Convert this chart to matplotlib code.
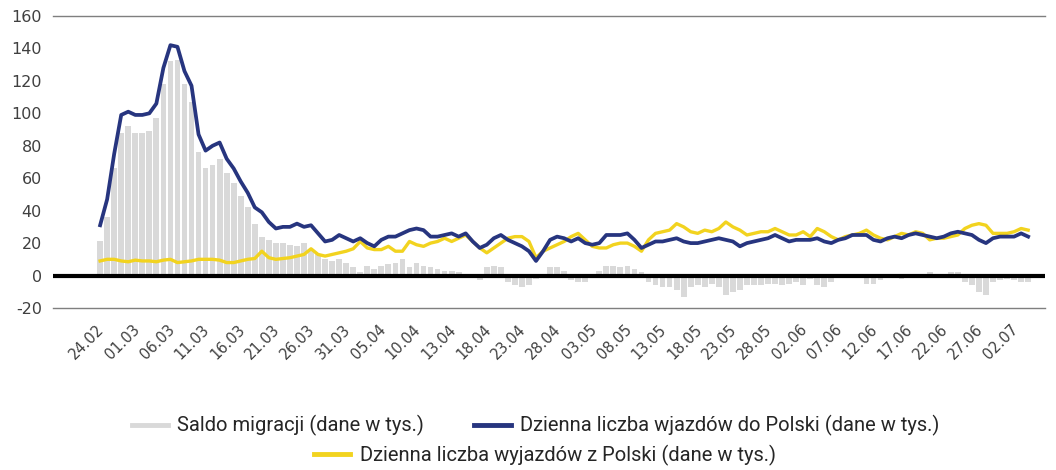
import matplotlib.pyplot as plt
import matplotlib.transforms as mtransforms
from matplotlib.lines import Line2D

plt.rcParams['axes.unicode_minus'] = False

# dzienna liczba wjazdow do Polski (tys.)
wjazdy = [31, 47, 75, 99, 101, 99, 99, 100, 106, 128,
          142, 141, 126, 117, 87, 77, 80, 82, 72, 66,
          58, 51, 42, 39, 33, 29, 30, 30, 32, 30,
          31, 26, 21, 22, 25, 23, 21, 23, 20, 18,
          22, 24, 24, 26, 28, 29, 28, 24, 24, 25,
          26, 24, 26, 21, 17, 19, 23, 25, 22, 20,
          18, 15, 9, 15, 22, 24, 23, 21, 23, 20,
          19, 20, 25, 25, 25, 26, 22, 17, 19, 21,
          21, 22, 23, 21, 20, 20, 21, 22, 23, 22,
          21, 18, 20, 21, 22, 23, 25, 23, 21, 22,
          22, 22, 23, 21, 20, 22, 23, 25, 25,
          25, 22, 21, 23, 24, 23, 25, 26, 25, 24,
          23, 24, 26, 27, 26, 25, 22, 20, 23, 24,
          24, 24, 26, 24]

# dzienna liczba wyjazdow z Polski (tys.)
wyjazdy = [9, 10, 10, 9, 8.5, 9.5, 9, 9, 8.5, 9.5,
           10, 8, 8.5, 9, 10, 10, 10, 9.5, 8, 8,
           9, 10, 10.5, 15, 11, 10, 10.5, 11, 12, 13,
           16.5, 13, 12, 13, 14, 15, 16.5, 21, 17, 16,
           16, 18, 15, 15, 21, 19, 18, 20, 21, 23,
           21, 23, 25, 21, 17, 14, 17, 20, 23, 24,
           24, 21, 11, 15, 17, 19, 21, 24, 26, 22,
           18, 17, 17, 19, 20, 20, 18, 15, 22, 26,
           27, 28, 32, 30, 27, 26, 28, 27, 29, 33,
           30, 28, 25, 26, 27, 27, 29, 27, 25, 25,
           27, 24, 29, 27, 24, 22, 24, 25, 26,
           28, 25, 23, 22, 24, 26, 25, 27, 26, 22,
           23, 23, 24, 25, 29, 31, 32, 31, 26, 26,
           26, 27, 29, 28]

# saldo migracji (tys.)
saldo = [21, 36, 66, 88, 92, 88, 88, 89, 97, 118,
         132, 133, 118, 107, 76, 66, 68, 72, 63, 57,
         49, 42, 32, 24, 22, 20, 20, 19, 18, 20,
         16, 13, 10, 9, 10, 8, 5, 2, 6, 4,
         6, 7, 8, 10, 5, 8, 6, 5, 4, 3,
         3, 2, 1, -1, -3, 5, 6, 5, -4, -6,
         -7, -6, -2, 1, 5, 5, 3, -3, -4, -4,
         1, 3, 6, 6, 5, 6, 4, 2, -4, -6,
         -7, -7, -9, -13, -7, -6, -7, -5, -7, -12,
         -10, -9, -6, -6, -6, -5, -5, -6, -5, -4,
         -6, -2, -6, -7, -4, -1, -1, 0, -1,
         -5, -5, -3, -1, 0, -2, -1, -1, -1, 2,
         0, 1, 2, 2, -4, -6, -10, -12, -4, -3,
         -2, -3, -4, -4]

etykiety = ['24.02', '01.03', '06.03', '11.03', '16.03', '21.03', '26.03',
            '31.03', '05.04', '10.04', '13.04', '18.04', '23.04', '28.04',
            '03.05', '08.05', '13.05', '18.05', '23.05', '28.05', '02.06',
            '07.06', '12.06', '17.06', '22.06', '27.06', '02.07']

kolor_wj = '#27357f'
kolor_wy = '#f2d31f'
kolor_saldo = '#d9d9d9'

fig = plt.figure(figsize=(10.56, 4.70), dpi=100)
ax = fig.add_axes([0.0502, 0.3447, 0.9394, 0.6213])

x = list(range(len(wjazdy)))
ax.bar(x, saldo, width=0.82, color=kolor_saldo, zorder=1)
ax.plot(x, wyjazdy, color=kolor_wy, lw=2.4, zorder=3, solid_joinstyle='round')
ax.plot(x, wjazdy, color=kolor_wj, lw=2.7, zorder=4, solid_joinstyle='round')
ax.axhline(0, color='black', lw=3, zorder=5)

ax.set_ylim(-20, 160)
ax.set_yticks(range(-20, 161, 20))
ax.set_xlim(-6.7, 134.4)

for s in ['left', 'right']:
    ax.spines[s].set_visible(False)
for s in ['top', 'bottom']:
    ax.spines[s].set_color('#7f7f7f')
    ax.spines[s].set_linewidth(1)

ax.tick_params(length=0, labelsize=11.5, labelcolor='#404040')
ax.tick_params(axis='y', pad=8)
ax.tick_params(axis='x', pad=10)

ax.set_xticks(range(0, len(etykiety) * 5, 5))
ax.set_xticklabels(etykiety, rotation=45, ha='right', va='top', fontsize=10.5)
przes = mtransforms.ScaledTranslation(0.07, 0, fig.dpi_scale_trans)
for lab in ax.get_xticklabels():
    lab.set_transform(lab.get_transform() + przes)

# legenda
h1 = Line2D([], [], color=kolor_saldo, lw=3.5)
h2 = Line2D([], [], color=kolor_wj, lw=3.5)
h3 = Line2D([], [], color=kolor_wy, lw=3.5)
fig.legend([h1, h2], ['Saldo migracji (dane w tys.)',
                      'Dzienna liczba wjazdów do Polski (dane w tys.)'],
           loc='center', bbox_to_anchor=(0.507, 0.094), ncol=2, frameon=False,
           prop={'family': 'Roboto', 'size': 14.5}, handlelength=1.8,
           handletextpad=0.45, columnspacing=2.5, labelcolor='#262626')
fig.legend([h3], ['Dzienna liczba wyjazdów z Polski (dane w tys.)'],
           loc='center', bbox_to_anchor=(0.516, 0.031), frameon=False,
           prop={'family': 'Roboto', 'size': 14.5}, handlelength=1.8,
           handletextpad=0.45, labelcolor='#262626')

fig.savefig('out.png', dpi=100)
